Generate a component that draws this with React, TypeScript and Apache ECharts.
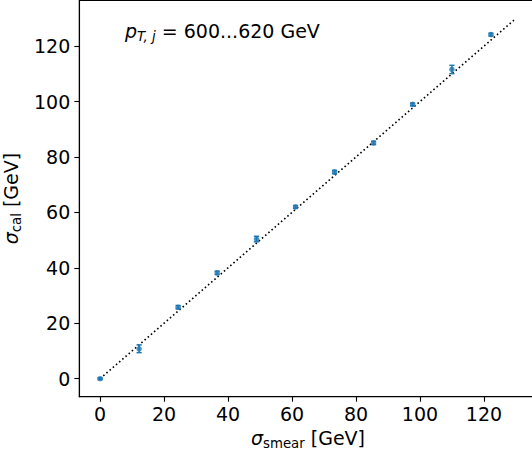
import React, { useEffect, useRef } from "react";
import * as echarts from "echarts";

const sigmaSmear = [0, 12.2, 24.4, 36.6, 48.9, 61.1, 73.3, 85.5, 97.7, 110.0, 122.2];
const sigmaCal = [0, 10.8, 25.8, 38.2, 50.4, 62.0, 74.6, 85.1, 99.0, 111.6, 124.2];
const sigmaCalErr = [0.3, 1.4, 0.6, 0.6, 1.0, 0.5, 0.6, 0.6, 0.5, 1.5, 0.5];
const diagonalX = [0, 130];
const tickValues = [0, 20, 40, 60, 80, 100, 120];
const annotation = "600...620 GeV";

const FONT = "DejaVu Sans";
const BLUE = "#1f77b4";

const richLabel = {
  s: { fontFamily: FONT, fontSize: 19, fontStyle: "italic", color: "#000", lineHeight: 24 },
  sub: { fontFamily: FONT, fontSize: 13.3, color: "#000", lineHeight: 14, verticalAlign: "bottom" },
  subi: { fontFamily: FONT, fontSize: 13.3, fontStyle: "italic", color: "#000", lineHeight: 14, verticalAlign: "bottom" },
  n: { fontFamily: FONT, fontSize: 19, color: "#000", lineHeight: 24 },
};

export default function App() {
  const ref = useRef<HTMLDivElement>(null);
  useEffect(() => {
    if (!ref.current) return;
    const chart = echarts.init(ref.current, null, { renderer: "svg" });
    const points = sigmaSmear.map((x, i) => [x, sigmaCal[i], sigmaCalErr[i]]);
    const axisCommon = {
      min: -6.5,
      max: 136.5,
      splitLine: { show: false },
      axisLine: { show: true, onZero: false, lineStyle: { color: "#000", width: 1.1 } },
      axisTick: { show: true, length: 5, customValues: tickValues, lineStyle: { color: "#000", width: 1.1 } },
      axisLabel: { customValues: tickValues, fontFamily: FONT, fontSize: 19, color: "#000", margin: 8 },
      nameLocation: "middle" as const,
      nameTextStyle: { rich: richLabel },
    };
    chart.setOption({
      animation: false,
      backgroundColor: "#fff",
      grid: {
        left: 79.3,
        top: 0.5,
        width: 457.4,
        height: 396.2,
        show: true,
        borderColor: "#000",
        borderWidth: 1.1,
        backgroundColor: "transparent",
        containLabel: false,
        outerBoundsMode: "none",
      },
      xAxis: {
        type: "value",
        ...axisCommon,
        name: "{s|σ}{sub|smear}{n| [GeV]}",
        nameGap: 28,
      },
      yAxis: {
        type: "value",
        ...axisCommon,
        axisLabel: { ...axisCommon.axisLabel, margin: 9 },
        name: "{s|σ}{sub|cal}{n| [GeV]}",
        nameGap: 46,
      },
      graphic: [
        {
          type: "text",
          left: 125,
          top: 21,
          style: {
            text: "{s|p}{subi|T, j}{n| = " + annotation + "}",
            rich: richLabel,
          },
        },
      ],
      series: [
        {
          type: "line",
          data: diagonalX.map((v) => [v, v]),
          showSymbol: false,
          symbol: "none",
          lineStyle: { color: "#000", width: 1.6, type: [1.6, 2.6] },
          z: 2,
        },
        {
          type: "custom",
          data: points,
          z: 3,
          renderItem: (params: any, api: any) => {
            const x = api.value(0);
            const y = api.value(1);
            const e = api.value(2);
            const top = api.coord([x, y + e]);
            const bot = api.coord([x, y - e]);
            const cw = 2.6;
            const st = { stroke: BLUE, lineWidth: 1.5 };
            return {
              type: "group",
              children: [
                { type: "line", shape: { x1: top[0], y1: top[1], x2: bot[0], y2: bot[1] }, style: st },
                { type: "line", shape: { x1: top[0] - cw, y1: top[1], x2: top[0] + cw, y2: top[1] }, style: st },
                { type: "line", shape: { x1: bot[0] - cw, y1: bot[1], x2: bot[0] + cw, y2: bot[1] }, style: st },
              ],
            };
          },
        },
        {
          type: "scatter",
          data: points.map((p) => [p[0], p[1]]),
          symbol: "circle",
          symbolSize: 5.5,
          itemStyle: { color: BLUE },
          z: 4,
        },
      ],
    });
    return () => chart.dispose();
  }, []);
  return (
    <div
      ref={ref}
      style={{ position: "fixed", left: 0, top: 0, width: 532, height: 451 }}
    />
  );
}
